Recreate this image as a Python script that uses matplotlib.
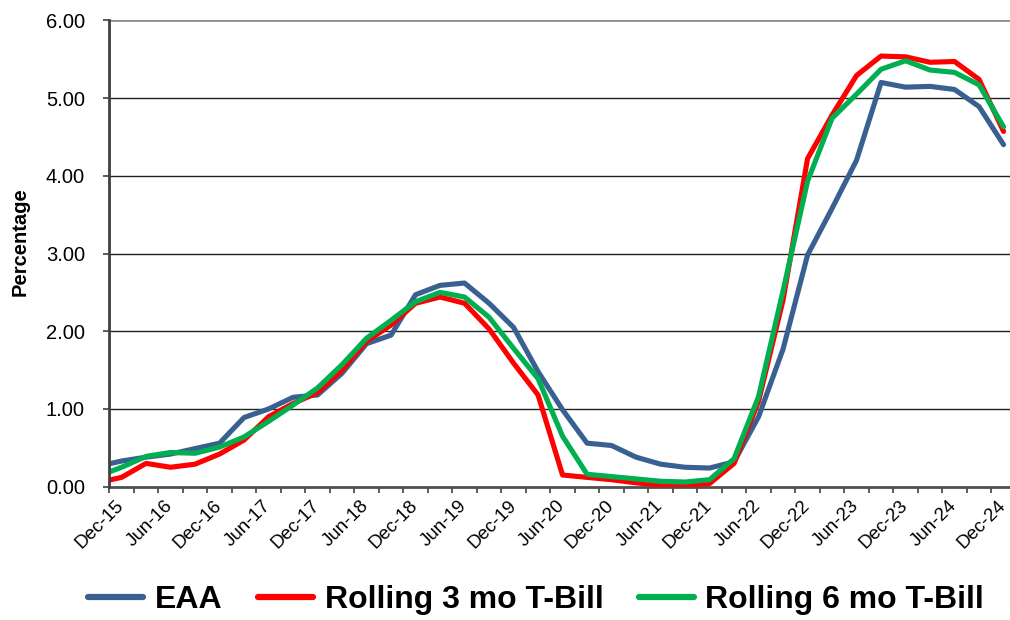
import matplotlib
matplotlib.use("Agg")
import matplotlib.pyplot as plt
import numpy as np
from matplotlib.ticker import FixedLocator, FuncFormatter

plt.rcParams['font.family'] = ['Liberation Sans', 'DejaVu Sans']

# Quarterly data: first entry (Sep-15) lies just left of the visible axis and is clipped
quarters = ["Sep-15",
            "Dec-15", "Mar-16", "Jun-16", "Sep-16", "Dec-16", "Mar-17", "Jun-17", "Sep-17",
            "Dec-17", "Mar-18", "Jun-18", "Sep-18", "Dec-18", "Mar-19", "Jun-19", "Sep-19",
            "Dec-19", "Mar-20", "Jun-20", "Sep-20", "Dec-20", "Mar-21", "Jun-21", "Sep-21",
            "Dec-21", "Mar-22", "Jun-22", "Sep-22", "Dec-22", "Mar-23", "Jun-23", "Sep-23",
            "Dec-23", "Mar-24", "Jun-24", "Sep-24", "Dec-24"]

eaa = [0.26,
       0.33, 0.38, 0.42, 0.49, 0.56, 0.89, 1.00, 1.15,
       1.18, 1.46, 1.84, 1.95, 2.47, 2.59, 2.62, 2.36,
       2.05, 1.48, 0.99, 0.56, 0.53, 0.38, 0.29, 0.25,
       0.24, 0.32, 0.90, 1.77, 2.98, 3.58, 4.20, 5.20,
       5.14, 5.15, 5.11, 4.89, 4.40]

tbill3 = [0.05,
          0.12, 0.30, 0.25, 0.29, 0.42, 0.60, 0.90, 1.07,
          1.21, 1.50, 1.87, 2.08, 2.36, 2.44, 2.36, 2.03,
          1.59, 1.18, 0.15, 0.12, 0.09, 0.05, 0.02, 0.015,
          0.04, 0.30, 1.10, 2.40, 4.22, 4.78, 5.29, 5.54,
          5.53, 5.46, 5.47, 5.24, 4.57]

tbill6 = [0.13,
          0.25, 0.39, 0.44, 0.43, 0.51, 0.64, 0.84, 1.05,
          1.27, 1.57, 1.91, 2.14, 2.38, 2.50, 2.44, 2.18,
          1.78, 1.39, 0.65, 0.16, 0.13, 0.10, 0.07, 0.06,
          0.09, 0.36, 1.16, 2.52, 3.93, 4.74, 5.05, 5.37,
          5.48, 5.36, 5.33, 5.17, 4.63]

series_names = ["EAA", "Rolling 3 mo T-Bill", "Rolling 6 mo T-Bill"]
y_ticks = [0, 1, 2, 3, 4, 5, 6]

colors = ["#386192", "#FF0000", "#00B050"]

fig = plt.figure(figsize=(10.10, 6.20), dpi=100)
W, H = 1010, 620
left_px, right_px = 109.3, 1015.8
top_px, bottom_px = 20.3, 486.7
ax = fig.add_axes([left_px / W, 1 - bottom_px / H,
                   (right_px - left_px) / W, (bottom_px - top_px) / H])

x = np.arange(len(quarters)) - 1  # Dec-15 at 0

for vals, name, c in zip([eaa, tbill3, tbill6], series_names, colors):
    ax.plot(x, vals, color=c, lw=3.7, label=name, solid_joinstyle='round',
            solid_capstyle='round', zorder=3)

ax.set_xlim(-0.5, len(quarters) - 1.5)
ax.set_ylim(0, 6)

# y axis
ax.set_yticks(y_ticks)
ax.yaxis.set_major_formatter(FuncFormatter(lambda v, p: f"{v:.2f}"))
ax.tick_params(axis='y', direction='out', length=4.5, width=1.2, color='#404040',
               labelsize=14.5, pad=13)
for yv in y_ticks[1:-1]:
    ax.axhline(yv, color='#222222', lw=1.0, zorder=1)
ax.axhline(6, color='#909090', lw=2.0, zorder=1)

# x axis: labels every half-year at category centres, tick marks at category boundaries
label_pos = [i - 1 for i, q in enumerate(quarters) if i >= 1 and (q.startswith("Dec") or q.startswith("Jun"))]
label_txt = [quarters[p + 1] for p in label_pos]
ax.xaxis.set_major_locator(FixedLocator(label_pos))
ax.set_xticklabels(label_txt, rotation=45, ha='right', va='center', rotation_mode='anchor')
ax.xaxis.set_minor_locator(FixedLocator(np.arange(-0.5, len(quarters) - 1.5 + 0.01, 1.0)))
ax.tick_params(axis='x', which='major', length=0, labelsize=13.5, pad=12)
ax.tick_params(axis='x', which='minor', direction='out', length=4, width=1.2, color='#404040')

for s in ['right', 'top']:
    ax.spines[s].set_visible(False)
ax.spines['left'].set_color('#404040')
ax.spines['left'].set_linewidth(2.0)
ax.spines['bottom'].set_color('#505050')
ax.spines['bottom'].set_linewidth(2.0)
ax.spines['left'].set_zorder(4)

fig.text(0.02, 1 - 242 / H, "Percentage", rotation=90, ha='center', va='center',
         fontsize=14.5, fontweight='bold')

handles, labels = ax.get_legend_handles_labels()
leg = fig.legend(handles, labels, loc='center', bbox_to_anchor=(0.531, 0.032), ncol=3,
                 frameon=False, prop={'size': 23, 'weight': 'bold'},
                 handlelength=1.72, handletextpad=0.37, columnspacing=1.1)
for l in leg.get_lines():
    l.set_linewidth(4.5)

fig.savefig("out.png", dpi=100)
